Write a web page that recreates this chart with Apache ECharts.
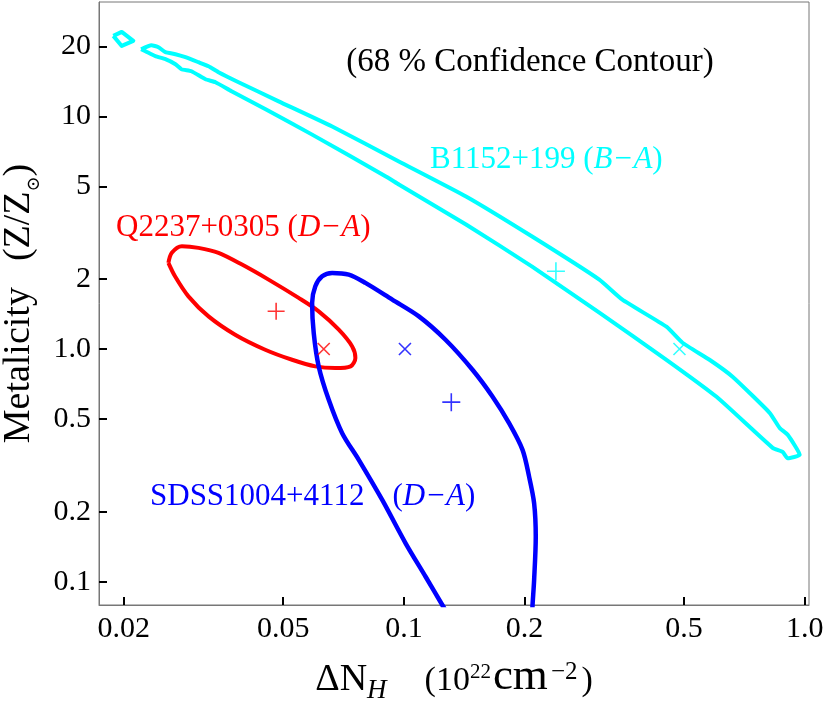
<!DOCTYPE html>
<html><head><meta charset="utf-8">
<script src="https://cdn.jsdelivr.net/npm/echarts@6/dist/echarts.min.js"></script>
<style>html,body{margin:0;padding:0;background:#fff}#c{width:830px;height:702px}</style>
</head><body><div id="c"></div>
<script>
// ---- tick values / labels ----
const xTicks = [0.02, 0.05, 0.1, 0.2, 0.5, 1.0];
const xTickLabels = ['0.02', '0.05', '0.1', '0.2', '0.5', '1.0'];
const yTicks = [0.1, 0.2, 0.5, 1, 2, 5, 10, 20];
const yTickLabels = ['0.1', '0.2', '0.5', '1.0', '2', '5', '10', '20'];

// ---- contours [ΔN_H, Z/Zsun] ----
const cyanContour = [
  [0.0221,19.43],[0.02344,20.21],[0.02441,19.82],[0.02541,18.86],[0.02692,18.49],[0.02851,17.95],
  [0.03073,17.08],[0.03255,16.42],[0.03447,15.47],[0.03868,14.01],[0.0487,11.60],[0.06607,9.06],
  [0.09716,6.40],[0.1429,4.525],[0.2089,3.044],[0.3073,1.987],[0.3508,1.630],[0.4519,1.247],
  [0.4955,1.064],[0.5787,0.899],[0.6607,0.760],[0.8175,0.532],[0.866,0.458],[0.907,0.428],
  [0.9716,0.351],[0.907,0.339],[0.881,0.361],[0.8318,0.376],[0.6026,0.623],[0.4519,0.899],
  [0.3073,1.433],[0.2089,2.261],[0.1429,3.428],[0.09716,5.097],[0.09016,5.517],[0.05888,8.365],
  [0.04519,10.72],[0.03715,12.81],[0.03388,14.01],[0.03199,14.43],[0.02951,15.62],[0.02786,15.94],
  [0.02692,16.74],[0.02541,17.60],[0.02399,18.13],[0.02265,19.05],[0.0221,19.43]
];
const cyanSmallLoop = [[0.01884,22.17],[0.01977,23.06],[0.02113,21.1],[0.01977,20.07],[0.01884,22.17]];
const redContour = [
  [0.02585,2.346],[0.02636,2.590],[0.02793,2.765],[0.03073,2.721],[0.03447,2.590],[0.03945,2.306],
  [0.04596,1.987],[0.05463,1.658],[0.0613,1.452],[0.06879,1.211],[0.0743,1.026],[0.07568,0.915],
  [0.07362,0.842],[0.06745,0.828],[0.06012,0.842],[0.0526,0.899],[0.04508,0.993],[0.03793,1.152],
  [0.03255,1.381],[0.029,1.684],[0.02685,2.054],[0.02585,2.346]
];
const blueContour = [
  [0.131,0.0684],[0.1247,0.0794],[0.1133,0.1050],[0.1010,0.1462],[0.0883,0.2245],[0.07717,0.3338],
  [0.07015,0.4349],[0.06494,0.6049],[0.0613,0.8417],[0.05957,1.172],[0.05902,1.578],[0.06012,1.860],
  [0.06252,2.054],[0.06622,2.124],[0.07286,2.088],[0.08017,1.924],[0.09354,1.630],[0.109,1.381],
  [0.127,1.096],[0.1483,0.8144],[0.1663,0.625],[0.183,0.480],[0.1977,0.3686],[0.2053,0.2828],
  [0.2113,0.2174],[0.2133,0.1561],[0.2113,0.1016],[0.2094,0.0794],[0.2085,0.068]
];
// ---- best-fit markers ----
const cyanPlus = [[0.2395, 2.158]];
const cyanCross = [[0.487, 1.0]];
const redPlus = [[0.048, 1.452]];
const redCross = [[0.0631, 1.0]];
const bluePlus = [[0.1313, 0.591]];
const blueCross = [[0.1006, 1.0]];

const CYAN = '#00FFFF', RED = '#FF0000', BLUE = '#0000FF';
const FF = "'Liberation Serif', 'DejaVu Serif', serif";
const PLUS = 'path://M10,0L10,20M0,10L20,10';
const CROSS = 'path://M0,0L20,20M20,0L0,20';

function lookup(ticks, labels) {
  return function (v) {
    for (let i = 0; i < ticks.length; i++) {
      if (Math.abs(ticks[i] - v) / ticks[i] < 1e-6) return labels[i];
    }
    return '';
  };
}
function contour(data, color, smooth, width) {
  return { type: 'line', data: data, showSymbol: false, symbol: 'none', smooth: smooth, clip: true,
    lineStyle: { color: color, width: width, join: 'round' }, silent: true, z: 2 };
}
function marker(data, color, sym, size) {
  return { type: 'scatter', data: data, symbol: sym, symbolSize: size, z: 3,
    itemStyle: { color: 'rgba(0,0,0,0)', borderColor: color, borderWidth: 1.6 } };
}

const chart = echarts.init(document.getElementById('c'), null, { renderer: 'canvas' });
chart.setOption({
  animation: false,
  backgroundColor: '#fff',
  grid: { left: 99, right: 21, top: 2, bottom: 97, containLabel: false, outerBoundsMode: 'none',
    show: true, borderColor: '#777', borderWidth: 1, backgroundColor: 'transparent' },
  xAxis: {
    type: 'log', logBase: 10, min: 0.01735, max: 1.025,
    axisLine: { show: true, lineStyle: { color: '#777', width: 1 } },
    axisTick: { show: true, inside: true, length: 8, lineStyle: { color: '#000', width: 2 }, customValues: xTicks },
    axisLabel: { show: true, margin: 9, color: '#000', fontFamily: FF, fontSize: 30, customValues: xTicks,
      formatter: lookup(xTicks, xTickLabels) },
    splitLine: { show: false }, minorTick: { show: false },
    name: '{a|ΔN}{h|H}{g| }{b|(10}{p|22}{c|cm}{q|−2}{b|)}',
    nameLocation: 'middle', nameGap: 50,
    nameTextStyle: { color: '#000', fontFamily: FF, rich: {
      a: { fontFamily: FF, fontSize: 38, color: '#000' },
      h: { fontFamily: FF, fontSize: 27, fontStyle: 'italic', color: '#000', padding: [21, 0, 0, 0] },
      g: { fontFamily: FF, fontSize: 20, width: 38 },
      b: { fontFamily: FF, fontSize: 34, color: '#000', padding: [2, 0, 0, 0] },
      p: { fontFamily: FF, fontSize: 21, color: '#000', padding: [0, 2, 15, 0] },
      c: { fontFamily: FF, fontSize: 45, color: '#000', padding: [0, 0, 5, 0] },
      q: { fontFamily: FF, fontSize: 25, color: '#000', padding: [0, 4, 16, 3] }
    } }
  },
  yAxis: {
    type: 'log', logBase: 10, min: 0.0794, max: 31,
    axisLine: { show: true, lineStyle: { color: '#777', width: 1 } },
    axisTick: { show: true, inside: true, length: 8, lineStyle: { color: '#000', width: 2 }, customValues: yTicks },
    axisLabel: { show: true, margin: 8, color: '#000', fontFamily: FF, fontSize: 30, customValues: yTicks,
      formatter: lookup(yTicks, yTickLabels) },
    splitLine: { show: false }, minorTick: { show: false },
    name: '{a|Metalicity}{g| }{a|(Z/Z}{s|⊙}{a|)}',
    nameLocation: 'middle', nameGap: 56, nameMoveOverlap: false,
    nameTextStyle: { color: '#000', fontFamily: FF, rich: {
      a: { fontFamily: FF, fontSize: 38, color: '#000' },
      g: { fontFamily: FF, fontSize: 20, width: 26 },
      s: { fontFamily: "'DejaVu Serif', serif", fontSize: 18, color: '#000', padding: [30, 0, 0, 0] }
    } }
  },
  series: [
    contour(cyanContour, CYAN, 0.15, 4),
    contour(cyanSmallLoop, CYAN, false, 4),
    contour(redContour, RED, 0.3, 4),
    contour(blueContour, BLUE, 0.3, 4.5),
    marker(cyanPlus, CYAN, PLUS, 18),
    marker(cyanCross, CYAN, CROSS, 12),
    marker(redPlus, RED, PLUS, 17),
    marker(redCross, RED, CROSS, 12),
    marker(bluePlus, BLUE, PLUS, 18),
    marker(blueCross, BLUE, CROSS, 12)
  ],
  graphic: [
    { type: 'text', x: 530, y: 62, z: 10, style: { text: '(68 % Confidence Contour)', fill: '#000',
      font: '33px ' + FF, align: 'center', verticalAlign: 'middle' } },
    { type: 'text', x: 430, y: 160, z: 10, style: { text: '{n|B1152+199 (}{i|B−A}{n|)}', fill: CYAN,
      align: 'left', verticalAlign: 'middle', font: '31px ' + FF,
      rich: { n: { font: '31px ' + FF, fill: CYAN }, i: { font: 'italic 31px ' + FF, fill: CYAN } } } },
    { type: 'text', x: 116, y: 228, z: 10, style: { text: '{n|Q2237+0305 (}{i|D−A}{n|)}', fill: RED,
      align: 'left', verticalAlign: 'middle', font: '31px ' + FF,
      rich: { n: { font: '31px ' + FF, fill: RED }, i: { font: 'italic 31px ' + FF, fill: RED } } } },
    { type: 'text', x: 150, y: 497, z: 10, style: { text: '{n|SDSS1004+4112}{g| }{n|(}{i|D−A}{n|)}', fill: BLUE,
      align: 'left', verticalAlign: 'middle', font: '31px ' + FF,
      rich: { n: { font: '31px ' + FF, fill: BLUE }, g: { font: '31px ' + FF, width: 28 }, i: { font: 'italic 31px ' + FF, fill: BLUE } } } }
  ]
});
</script>
</body></html>
